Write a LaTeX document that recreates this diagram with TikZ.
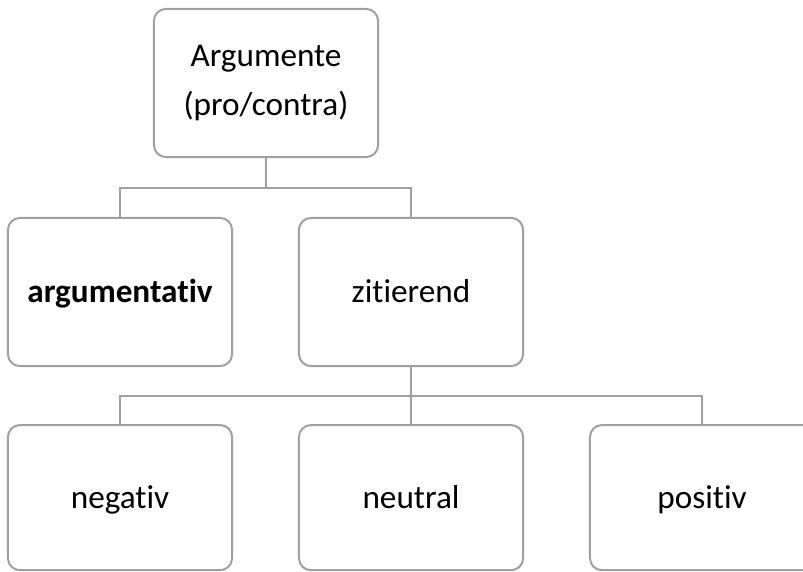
\documentclass[tikz,border=0pt]{standalone}
\usepackage{fontspec}
\setmainfont{Carlito}[Ligatures={NoCommon,NoContextual}]
\usetikzlibrary{shapes}
\definecolor{boxgray}{RGB}{160,160,160}
\tikzstyle{cat} = [rectangle, rounded corners=9pt, minimum width=5.93cm, minimum height=3.92cm, text centered, align=center, draw=boxgray, line width=1.5pt, font=\fontsize{25}{37.5}\selectfont]
\tikzstyle{word} = [cat, text height=18pt, text depth=1.5pt]
\tikzstyle{leaf} = [word, minimum height=3.84cm]
\tikzstyle{conn} = [draw=boxgray, line width=1.5pt]

\begin{document}
\begin{tikzpicture}[node distance=1cm]
\useasboundingbox (0,0) rectangle (21.246,-15.134);
\node (arg) [cat] at (7.038,-2.196) {Argumente\\(pro/contra)};
\node (argv) [word, below of=arg, yshift=-4.53cm, xshift=-3.863cm] {\textbf{argumentativ}};
\node (zit) [word, right of=argv, xshift=6.7cm] {zitierend};
\node (neu) [leaf, below of=zit, yshift=-4.44cm] {neutral};
\node (neg) [leaf, left of=neu, xshift=-6.7cm] {negativ};
\node (pos) [leaf, right of=neu, xshift=6.7cm] {positiv};

\draw [conn] (arg.south) -- ++(0,-0.8) -| (argv.north);
\draw [conn] (arg.south) -- ++(0,-0.8) -| (zit.north);
\draw [conn] (zit.south) -- (neu.north);
\draw [conn] (zit.south) -- ++(0,-0.77) -| (neg.north);
\draw [conn] (zit.south) -- ++(0,-0.77) -| (pos.north);
\end{tikzpicture}
\end{document}
